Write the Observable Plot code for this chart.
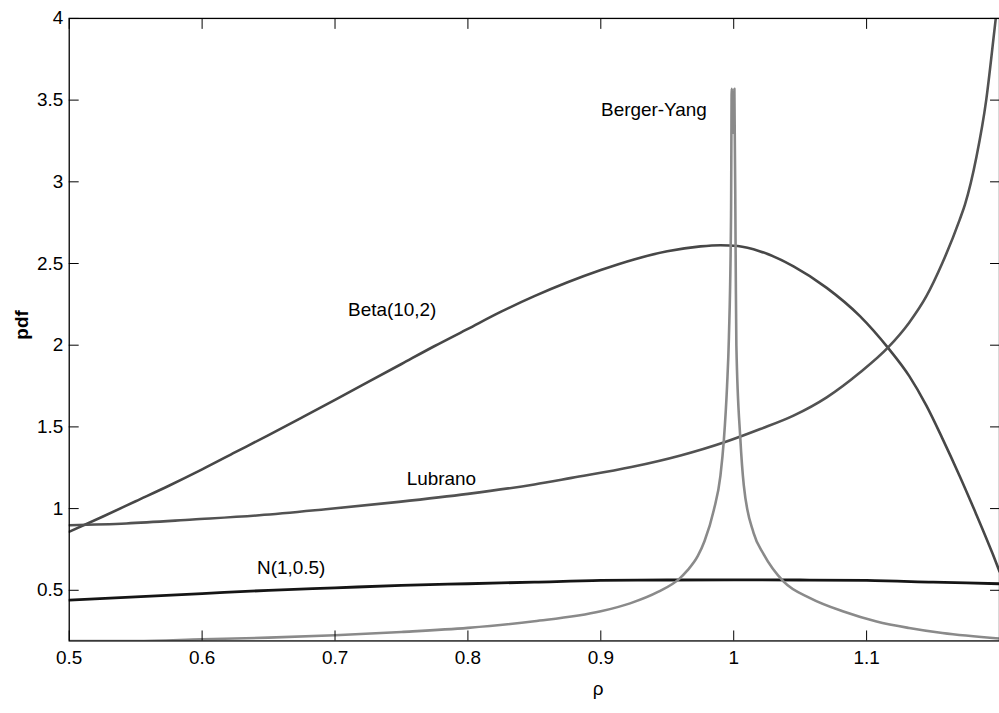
<!DOCTYPE html>
<html>
<head>
<meta charset="utf-8">
<script src="https://cdn.jsdelivr.net/npm/d3@7"></script>
<script src="https://cdn.jsdelivr.net/npm/@observablehq/plot@0.6"></script>
<style>
  html, body { margin: 0; padding: 0; background: #fff; overflow: hidden; }
  #chart { width: 999px; height: 713px; overflow: hidden; }
  svg { font-family: Arial, "Liberation Sans", sans-serif; }
</style>
</head>
<body>
<div id="chart"></div>
<script>
// ---- data ----
const betaX = [0.5,0.525,0.55,0.575,0.6,0.625,0.65,0.675,0.7,0.725,0.75,0.775,0.8,0.825,0.85,0.875,0.9,0.925,0.95,0.975,0.99,1.003,1.020,1.045,1.070,1.095,1.116,1.132,1.145,1.157,1.170,1.182,1.195,1.2];
const betaY = [0.858,0.95,1.045,1.14,1.24,1.345,1.45,1.557,1.665,1.775,1.885,1.995,2.10,2.205,2.30,2.385,2.46,2.525,2.575,2.605,2.612,2.607,2.574,2.483,2.351,2.178,1.985,1.812,1.63,1.43,1.20,0.975,0.72,0.615];

const lubX = [0.5,0.543,0.593,0.643,0.693,0.748,0.8,0.85,0.878,0.923,0.96,0.993,1.020,1.045,1.070,1.095,1.116,1.132,1.145,1.157,1.170,1.174,1.1826,1.19,1.196,1.2];
const lubY = [0.898,0.909,0.933,0.959,0.996,1.041,1.09,1.148,1.188,1.254,1.325,1.406,1.487,1.569,1.681,1.833,1.985,2.138,2.30,2.503,2.767,2.86,3.15,3.50,3.915,4.2];

const normX = [0.5,0.55,0.6,0.65,0.7,0.75,0.8,0.85,0.9,0.95,1.0,1.05,1.1,1.15,1.2];
const normY = [0.44,0.46,0.48,0.50,0.515,0.53,0.54,0.55,0.56,0.563,0.564,0.563,0.56,0.55,0.54];

const byX = [0.5,0.55,0.6,0.65,0.7,0.75,0.8,0.85,0.9,0.922,0.943,0.959,0.965,0.973,0.978,0.985,0.990,0.9926,0.995,0.9964,0.998,0.9985,0.9995,1.0005,1.0015,1.002,1.005,1.0076,1.015,1.0226,1.0376,1.0575,1.0826,1.1075,1.132,1.157,1.2];
const byY = [0.19,0.19,0.20,0.21,0.225,0.245,0.27,0.31,0.371,0.42,0.49,0.57,0.62,0.71,0.80,0.99,1.2,1.42,1.75,2.05,2.8,3.57,3.3,3.57,2.5,2.0,1.427,1.142,0.85,0.72,0.553,0.452,0.37,0.309,0.269,0.238,0.205];

const labelText = ["Beta(10,2)", "Lubrano", "N(1,0.5)", "Berger-Yang"];
const labelX = [0.743, 0.780, 0.667, 0.940];
const labelY = [2.213, 1.183, 0.634, 3.44];

const xTicks = [0.5, 0.6, 0.7, 0.8, 0.9, 1.0, 1.1];
const yTicks = [0.5, 1, 1.5, 2, 2.5, 3, 3.5, 4];

const series = [
  {name: "Beta(10,2)", xs: betaX, ys: betaY, color: "#474747", width: 2.6},
  {name: "Lubrano", xs: lubX, ys: lubY, color: "#525252", width: 2.6},
  {name: "N(1,0.5)", xs: normX, ys: normY, color: "#151515", width: 2.8},
  {name: "Berger-Yang", xs: byX, ys: byY, color: "#8a8a8a", width: 2.6}
];

const toRows = s => s.xs.map((x, i) => ({x, y: s.ys[i]}));
const labels = labelText.map((t, i) => ({t, x: labelX[i], y: labelY[i]}));

const fmt = d => String(+d.toFixed(1));

const chart = Plot.plot({
  width: 1003,
  height: 713,
  marginLeft: 69,
  marginRight: 0,
  marginTop: 18,
  marginBottom: 70,
  style: {fontSize: "19px", fontFamily: "Arial, 'Liberation Sans', sans-serif", color: "#000", background: "#fff"},
  x: {domain: [0.5, 1.2]},
  y: {domain: [0.19, 4]},
  marks: [
    ...series.map(s => Plot.line(toRows(s), {x: "x", y: "y", stroke: s.color, strokeWidth: s.width, curve: "monotone-x", clip: true})),
    Plot.text(labels, {x: "x", y: "y", text: "t", fontSize: 19, fill: "#000"}),
    Plot.frame({stroke: "#000", strokeWidth: 1.3}),
    Plot.axisX(xTicks, {anchor: "bottom", tickSize: -10, tickPadding: 20, tickFormat: fmt, label: null, stroke: "#000", fill: "#000"}),
    Plot.axisX(xTicks, {anchor: "top", tickSize: -10, tickFormat: () => "", label: null, stroke: "#000"}),
    Plot.axisY(yTicks, {anchor: "left", tickSize: -10, tickPadding: 16, tickFormat: d => String(d), label: null, stroke: "#000", fill: "#000"}),
    Plot.axisY(yTicks, {anchor: "right", tickSize: -10, tickFormat: () => "", label: null, stroke: "#000"}),
    Plot.text(["ρ"], {frameAnchor: "bottom", x: 0.898, dy: 54, text: d => d, fontSize: 19, fill: "#000"}),
    Plot.text(["pdf"], {frameAnchor: "left", dx: -47, dy: 10, rotate: -90, text: d => d, fontSize: 19, fontWeight: "bold", fill: "#000"})
  ]
});
document.getElementById("chart").appendChild(chart);
</script>
</body>
</html>
